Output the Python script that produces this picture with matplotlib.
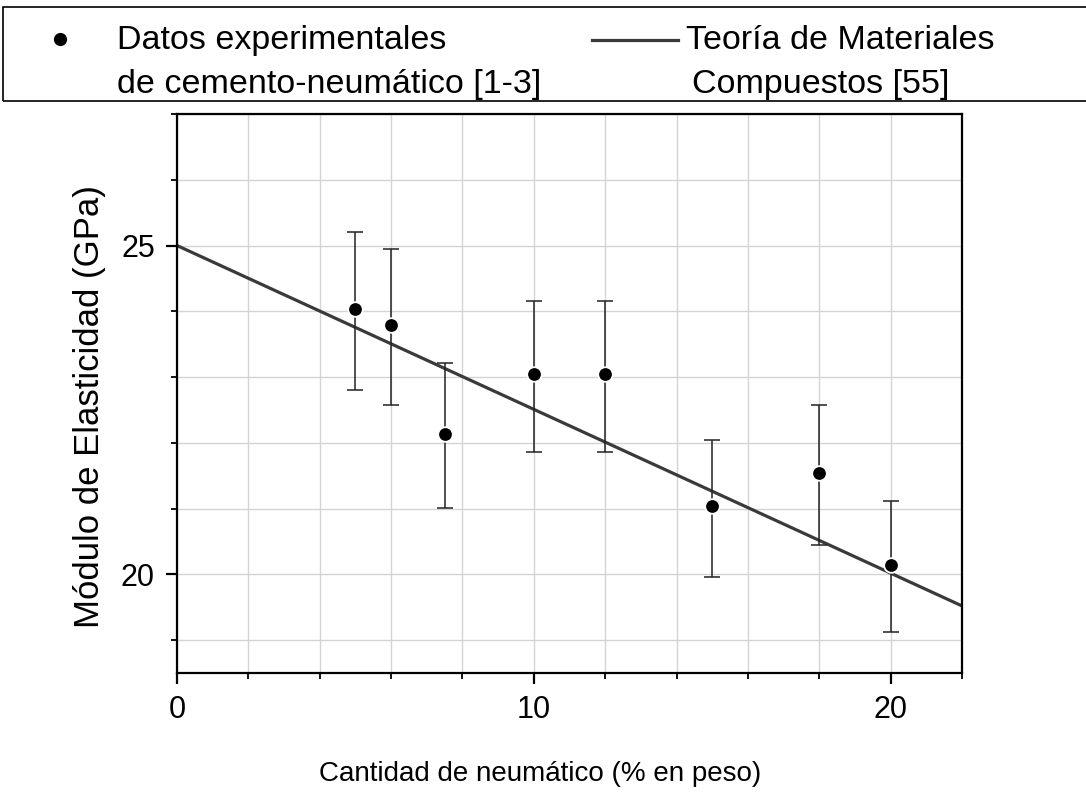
import matplotlib
matplotlib.use("Agg")
import matplotlib.pyplot as plt
from matplotlib.lines import Line2D
from matplotlib.patches import Rectangle
from matplotlib.ticker import MultipleLocator
import numpy as np

plt.rcParams['font.family'] = ['Liberation Sans', 'DejaVu Sans']

# Experimental data
x_exp = [5, 6, 7.5, 10, 12, 15, 18, 20]
y_exp = [24.03, 23.79, 22.13, 23.04, 23.04, 21.04, 21.54, 20.14]
err_up = [1.17, 1.15, 1.09, 1.12, 1.12, 1.01, 1.04, 0.98]
err_dn = [1.22, 1.22, 1.12, 1.18, 1.18, 1.08, 1.10, 1.02]

# Composite theory line
x_theory = [0, 22]
y_theory = [25.0, 19.52]

fig = plt.figure(figsize=(10.86, 7.95), dpi=100)
ax = fig.add_axes([177/1086, 1-673/795, (962-177)/1086, (673-114)/795])

ax.set_xlim(0, 22)
ax.set_ylim(18.5, 27)

ax.xaxis.set_major_locator(MultipleLocator(10))
ax.xaxis.set_minor_locator(MultipleLocator(2))
ax.yaxis.set_major_locator(MultipleLocator(5))
ax.yaxis.set_minor_locator(MultipleLocator(1))

ax.grid(True, which='both', color='#d4d4d4', linewidth=1.0, zorder=0)
ax.set_axisbelow(True)

ax.plot(x_theory, y_theory, color='#3a3a3a', linewidth=2.3, zorder=2)
ax.errorbar(x_exp, y_exp, yerr=[err_dn, err_up], fmt='none', ecolor='#222222',
            elinewidth=1.1, capsize=5.5, capthick=1.1, zorder=3)
ax.plot(x_exp, y_exp, 'o', color='black', markersize=10.5, markeredgecolor='white',
        markeredgewidth=1.3, zorder=4)

for s in ax.spines.values():
    s.set_linewidth(1.6)
    s.set_color('black')

ax.tick_params(which='major', direction='out', length=8, width=1.6, labelsize=22, pad=8)
ax.tick_params(which='minor', direction='out', length=4, width=1.3)
ax.tick_params(top=False, right=False, which='both')

ax.set_xlabel('Cantidad de neumático (% en peso)', fontsize=20)
ax.xaxis.set_label_coords((540-177)/785, (673-761)/559)
ax.set_ylabel('Módulo de Elasticidad (GPa)', fontsize=25)
ax.yaxis.set_label_coords((106-177)/785, (673-407)/559)

# Legend (drawn in figure pixels)
W, H = 1086, 795
def fx(px): return px / W
def fy(py): return 1 - py / H

fig.patches.append(Rectangle((fx(3), fy(101)), fx(1200), (101-7)/H, transform=fig.transFigure,
                             fill=False, edgecolor='black', linewidth=1.2))
fig.lines.append(Line2D([fx(60)], [fy(39)], marker='o', color='black', markersize=10.5,
                        markeredgecolor='white', transform=fig.transFigure))
fig.lines.append(Line2D([fx(592), fx(678)], [fy(40), fy(40)], color='#3a3a3a', linewidth=2.3,
                        transform=fig.transFigure))
fs = 24.5
fig.text(fx(117), fy(49), 'Datos experimentales', fontsize=fs, va='baseline', ha='left')
fig.text(fx(117), fy(93), 'de cemento-neumático [1-3]', fontsize=fs, va='baseline', ha='left')
fig.text(fx(686), fy(49), 'Teoría de Materiales', fontsize=fs, va='baseline', ha='left')
fig.text(fx(692), fy(93), 'Compuestos [55]', fontsize=fs, va='baseline', ha='left')

fig.savefig('out.png', dpi=100)
